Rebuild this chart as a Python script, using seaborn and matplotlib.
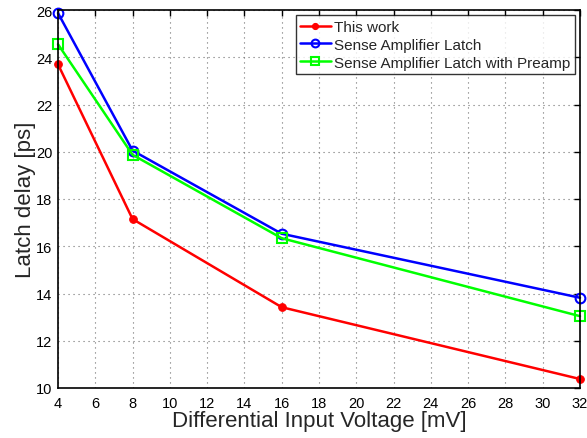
import matplotlib
matplotlib.use("Agg")
import matplotlib.pyplot as plt
import seaborn as sns
import pandas as pd

voltage = [4, 8, 16, 32]
this_work = [23.7, 17.15, 13.42, 10.38]
sa_latch = [25.87, 20.05, 16.53, 13.82]
sa_latch_preamp = [24.55, 19.87, 16.34, 13.04]
labels = ["This work", "Sense Amplifier Latch", "Sense Amplifier Latch with Preamp"]
x_ticks = list(range(4, 33, 2))
y_ticks = list(range(10, 27, 2))

sns.set_style("white")
plt.rcParams['font.family'] = ['Liberation Sans', 'DejaVu Sans']

fig = plt.figure(figsize=(5.87, 4.39), dpi=100)
ax = fig.add_axes([58/587, 1-389/439, (580-58)/587, (389-11)/439])

styles = [
    dict(color="#ff0000", marker="o", markersize=5.5, markerfacecolor="#ff0000", markeredgecolor="#ff0000"),
    dict(color="#0000ff", marker="o", markersize=7, markerfacecolor="none", markeredgecolor="#0000ff", markeredgewidth=1.5),
    dict(color="#00ff00", marker="s", markersize=6.5, markerfacecolor="none", markeredgecolor="#00ff00", markeredgewidth=1.5),
]
for vals, lab, st in zip([this_work, sa_latch, sa_latch_preamp], labels, styles):
    df = pd.DataFrame({"x": voltage, "y": vals})
    sns.lineplot(data=df, x="x", y="y", ax=ax, label=lab, linewidth=1.8, clip_on=False, **st)

ax.set_xlim(4, 32)
ax.set_ylim(10, 26)
ax.set_xticks(x_ticks)
ax.set_yticks(y_ticks)
ax.grid(True, linestyle=(0, (1, 3.5)), color="#707070", linewidth=0.8)
ax.tick_params(direction="in", length=4, width=1, labelsize=10.5, top=True, right=True,
               colors="black")
ax.tick_params(axis="x", pad=6)
ax.tick_params(axis="y", pad=4)
for s in ax.spines.values():
    s.set_color("black")
    s.set_linewidth(1.2)
    s.set_visible(True)
ax.set_xlabel("Differential Input Voltage [mV]", fontsize=16, labelpad=0)
ax.set_ylabel("Latch delay [ps]", fontsize=16, labelpad=0)

leg = ax.legend(loc="upper right", fontsize=11, frameon=True, fancybox=False,
                borderpad=0.3, labelspacing=0.25, handlelength=2.0, handletextpad=0.2,
                borderaxespad=0.35, markerscale=0.8)
leg.get_frame().set_edgecolor("black")
leg.get_frame().set_linewidth(1.0)

fig.savefig("out.png", dpi=100)
